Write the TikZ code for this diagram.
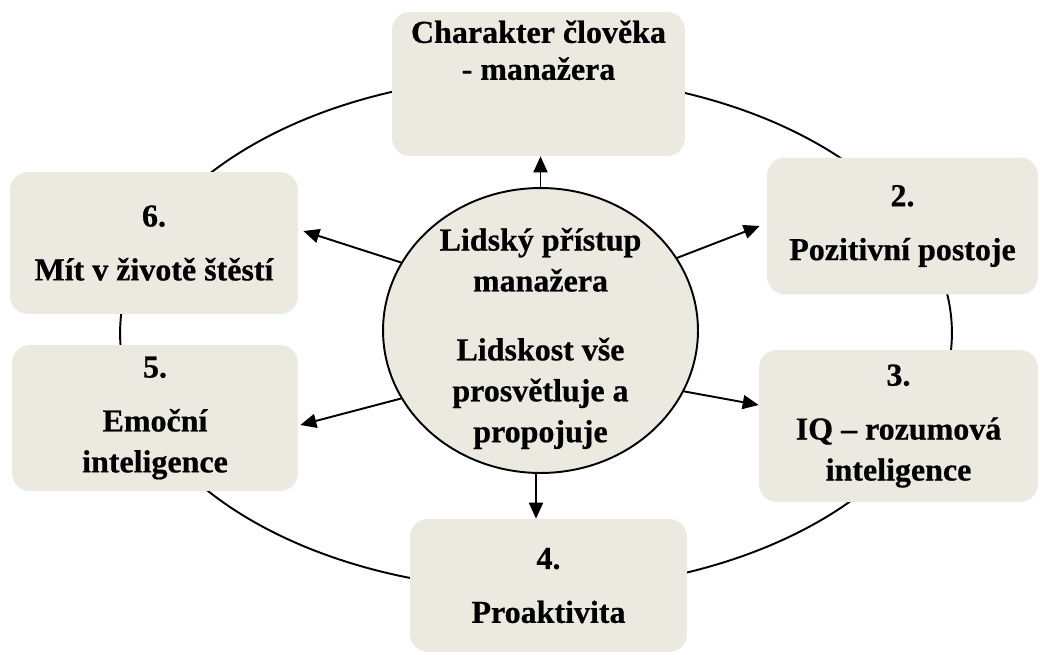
\documentclass[tikz,border=0pt]{standalone}
\usepackage{fontspec}
\setmainfont[BoldFeatures={FakeBold=0.6}]{Liberation Serif}
\usetikzlibrary{shapes.geometric,arrows.meta}
\definecolor{boxfill}{RGB}{236,234,224}
\begin{document}
\begin{tikzpicture}[x=0.02cm, y=-0.02cm]
  % Define styles
  \tikzstyle{boxtext} = [align=center, inner sep=0pt, font=\bfseries\fontsize{18.2}{23.3}\selectfont]
  \tikzstyle{box} = [boxtext, rectangle, rounded corners=0.36cm, fill=boxfill]
  \tikzstyle{hub} = [ellipse, draw=black, line width=1.1pt, fill=boxfill,
                     minimum width=6.3cm, minimum height=5.7cm, inner sep=0pt]
  \tikzstyle{arrow} = [line width=1.1pt, -{Triangle[length=0.32cm, width=0.28cm]}]
  \tikzstyle{ring} = [line width=1.1pt]

  \useasboundingbox (0,0) rectangle (1040,655);

  % Outer ring
  \draw [ring] (536,333) ellipse [x radius=8.32cm, y radius=5.14cm];

  % Nodes
  \node (hub) [hub] at (540.5,330.5) {};
  \node (hubtext) [boxtext] at (540.5,338.5) {Lidský přístup\\manažera\\[15.9pt]Lidskost vše\\prosvětluje a\\propojuje};
  \node (b1) [box, minimum width=5.86cm, minimum height=2.88cm] at (538.5,84) {};
  \node (title) [boxtext, anchor=north, font=\bfseries\fontsize{18.2}{21}\selectfont] at (538.5,20) {Charakter člověka\\- manažera};
  \node (b2) [box, minimum width=5.42cm, minimum height=2.74cm] at (902.5,226) {2.\\[7.4pt]Pozitivní postoje};
  \node (b3) [box, minimum width=5.58cm, minimum height=3.04cm] at (898.5,426) {3.\\[7.4pt]IQ – rozumová\\inteligence};
  \node (b4) [box, minimum width=5.54cm, minimum height=2.66cm] at (548.5,585.5) {4.\\[7.4pt]Proaktivita};
  \node (b5) [box, minimum width=5.72cm, minimum height=2.92cm] at (155,418) {5.\\[7.4pt]Emoční\\inteligence};
  \node (b6) [box, minimum width=5.76cm, minimum height=2.84cm] at (154,243) {6.\\[7.4pt]Mít v životě štěstí};

  % Arrows
  \draw [arrow] (hub.north) -- (hub.north |- b1.south);
  \draw [arrow] (hub.28) -- ([xshift=-0.14cm, yshift=0.0cm]b2.west);
  \draw [arrow] (hub.337.5) -- ([yshift=0.42cm]b3.west);
  \draw [arrow] ([xshift=-0.09cm]hub.south) -- ([xshift=-0.09cm]hub.south |- b4.north);
  \draw [arrow] (hub.206) -- ([xshift=0.04cm, yshift=-0.14cm]b5.east);
  \draw [arrow] (hub.154) -- ([xshift=0.1cm, yshift=0.24cm]b6.east);
\end{tikzpicture}
\end{document}
